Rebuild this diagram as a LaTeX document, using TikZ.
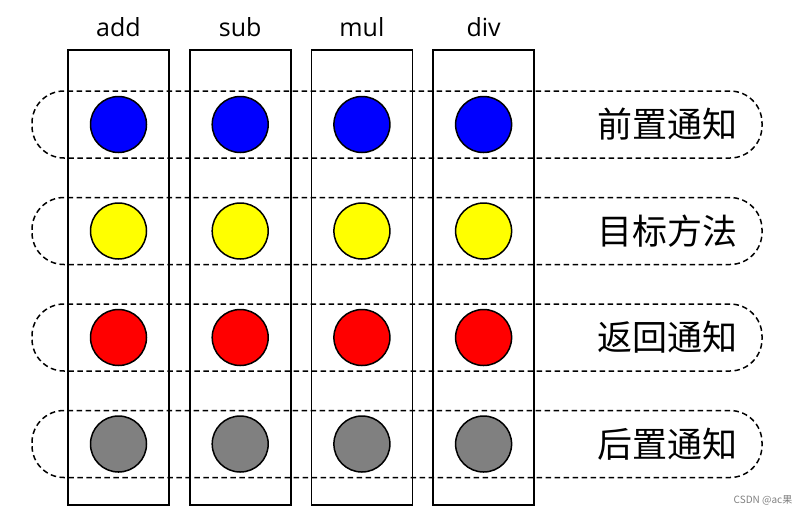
\documentclass[tikz,border=0pt]{standalone}
\usepackage{fontspec}
\setmainfont{Open Sans}
\newfontfamily\cjk{Noto Sans CJK SC}
\usetikzlibrary{positioning}
\definecolor{preblue}{RGB}{0,0,255}
\definecolor{tgtyellow}{RGB}{255,255,0}
\definecolor{retred}{RGB}{255,0,0}
\definecolor{postgray}{RGB}{128,128,128}

\begin{document}
\begin{tikzpicture}[
  x=1pt, y=-1pt,
  col/.style={draw, line width=1.7pt, rectangle, minimum width=101pt, minimum height=455pt},
  row/.style={draw, line width=1.5pt, dash pattern=on 5.5pt off 3.5pt, rectangle,
    rounded corners=32pt, minimum width=730pt, minimum height=67pt},
  dot/.style={draw, line width=1.5pt, circle, minimum size=56pt, inner sep=0pt},
  lbl/.style={font=\fontsize{25}{25}\selectfont, inner sep=0pt},
  advice/.style={font=\cjk\fontsize{35}{35}\selectfont, inner sep=0pt}
]
  \useasboundingbox (0,0) rectangle (810,515);

  % the four methods
  \node[col] (col-add) at (118.5,277.5) {};
  \node[col, right=19pt of col-add] (col-sub) {};
  \node[col, right=19pt of col-sub] (col-mul) {};
  \node[col, right=19pt of col-mul] (col-div) {};

  \node[lbl, above=12pt of col-add] (lbl-add) {add};
  \node[lbl, above=12pt of col-sub] (lbl-sub) {sub};
  \node[lbl, above=12pt of col-mul] (lbl-mul) {mul};
  \node[lbl, above=12pt of col-div] (lbl-div) {div};

  % the four advice rows
  \node[row] (row-pre) at (397,124.5) {};
  \node[row, below=38pt of row-pre] (row-tgt) {};
  \node[row, below=38pt of row-tgt] (row-ret) {};
  \node[row, below=38pt of row-ret] (row-post) {};

  \node[advice] (adv-pre) at (667,124.5) {前置通知};
  \node[advice] (adv-tgt) at (adv-pre |- row-tgt) {目标方法};
  \node[advice] (adv-ret) at (adv-pre |- row-ret) {返回通知};
  \node[advice] (adv-post) at (adv-pre |- row-post) {后置通知};

  \foreach \c in {add,sub,mul,div} {
    \node[dot, fill=preblue] (\c-pre) at (col-\c |- row-pre) {};
    \node[dot, fill=tgtyellow] (\c-tgt) at (col-\c |- row-tgt) {};
    \node[dot, fill=retred] (\c-ret) at (col-\c |- row-ret) {};
    \node[dot, fill=postgray] (\c-post) at (col-\c |- row-post) {};
  }

  \node[font=\cjk\fontsize{10}{10}\selectfont, text=postgray, inner sep=0pt] (mark) at (763,500) {CSDN @ac果};
\end{tikzpicture}
\end{document}
